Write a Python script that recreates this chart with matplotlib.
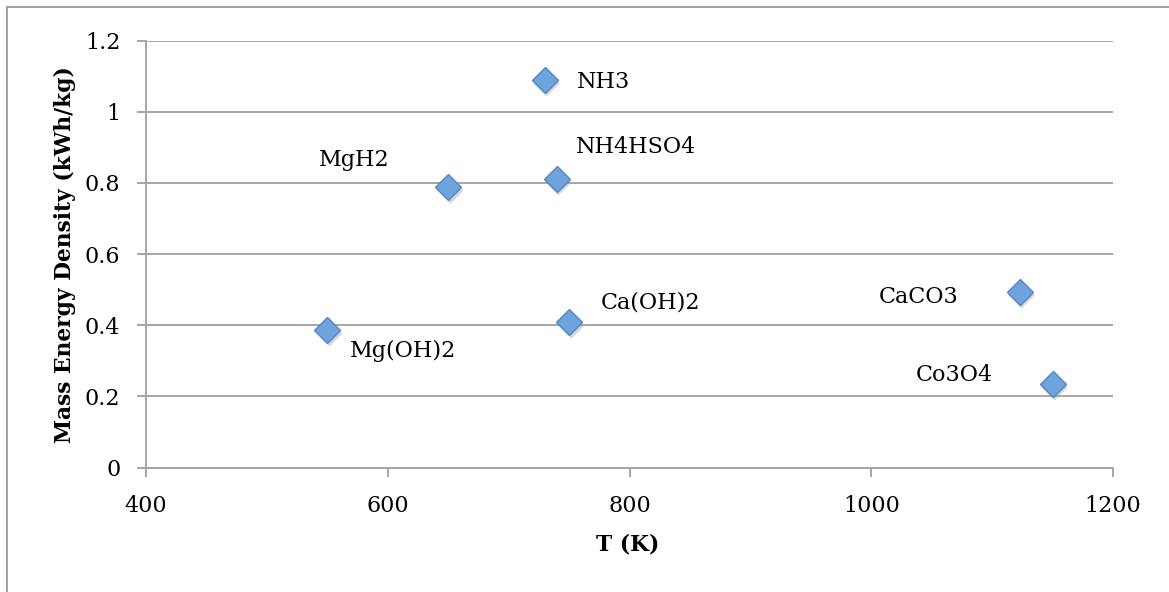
import matplotlib
matplotlib.use("Agg")
import matplotlib.pyplot as plt
from matplotlib.lines import Line2D
from matplotlib import transforms

# ---- data ----
materials = ["NH3", "MgH2", "NH4HSO4", "Mg(OH)2", "Ca(OH)2", "CaCO3", "Co3O4"]
temperature_K = [730, 650, 740, 550, 750, 1123, 1150]
energy_density = [1.09, 0.79, 0.81, 0.388, 0.408, 0.493, 0.236]
x_ticks = [400, 600, 800, 1000, 1200]
y_ticks = [0, 0.2, 0.4, 0.6, 0.8, 1.0, 1.2]
y_tick_labels = ["0", "0.2", "0.4", "0.6", "0.8", "1", "1.2"]
x_title = "T (K)"
y_title = "Mass Energy Density (kWh/kg)"

# label offsets (pixels) and alignment per point
label_style = {
    "NH3": (32, -2, "left"),
    "MgH2": (-59, 27, "right"),
    "NH4HSO4": (19, 32, "left"),
    "Mg(OH)2": (23, -21, "left"),
    "Ca(OH)2": (32, 20, "left"),
    "CaCO3": (-61, -5, "right"),
    "Co3O4": (-60, 9, "right"),
}

W, H, DPI = 1169, 592, 100
plt.rcParams["font.family"] = ["DejaVu Serif"]
FS = 16
FSB = 15.7
GRID = "#a6a6a6"

fig = plt.figure(figsize=(W / DPI, H / DPI), dpi=DPI)
fig.patch.set_facecolor("white")

left, right = 146 / W, 1113 / W
top, bottom = 1 - 40.7 / H, 1 - 467.5 / H
ax = fig.add_axes([left, bottom, right - left, top - bottom])

ax.set_xlim(400, 1200)
ax.set_ylim(0, 1.2)
ax.set_xticks(x_ticks)
ax.set_xticklabels([str(t) for t in x_ticks])
ax.set_yticks(y_ticks)
ax.set_yticklabels(y_tick_labels)

for s in ["top", "right"]:
    ax.spines[s].set_visible(False)
for s in ["left", "bottom"]:
    ax.spines[s].set_color(GRID)
    ax.spines[s].set_linewidth(1.4)

ax.yaxis.grid(True, color=GRID, linewidth=1.4)
ax.set_axisbelow(True)
ax.tick_params(axis="both", direction="out", length=6.5, width=1.4, color=GRID,
               labelsize=FS, labelcolor="black")
ax.tick_params(axis="y", pad=12)
ax.tick_params(axis="x", pad=13)

# shadow
shadow_tr = transforms.offset_copy(ax.transData, fig=fig, x=1.5, y=-3, units="dots")
ax.plot(temperature_K, energy_density, linestyle="none", marker="D", markersize=13.5,
        markerfacecolor="#9a9a9a", markeredgecolor="none", alpha=0.4,
        transform=shadow_tr, zorder=3, clip_on=False)
ax.plot(temperature_K, energy_density, linestyle="none", marker="D", markersize=13.3,
        markerfacecolor="#6fa3de", markeredgecolor="#5386c4", markeredgewidth=1.0,
        zorder=4, clip_on=False)

for name, xv, yv in zip(materials, temperature_K, energy_density):
    dx, dy, ha = label_style[name]
    ax.annotate(name, (xv, yv), xytext=(dx * 0.72, dy * 0.72), textcoords="offset points",
                ha=ha, va="center", fontsize=FS, color="black", zorder=5)

ax.set_xlabel(x_title, fontsize=FSB, fontweight="bold", va="center")
ax.xaxis.set_label_coords(0.4984, (467.5 - 544) / (467.5 - 40.7))
ax.set_ylabel(y_title, fontsize=FSB, fontweight="bold", va="center")
ax.yaxis.set_label_coords((65 - 146) / (1113 - 146), 0.5)

# outer border (top and left only, as the chart is cropped)
bx = 6.5 / W
by = 1 - 6.5 / H
fig.add_artist(Line2D([bx, 1.0], [by, by], transform=fig.transFigure, color="#a0a0a0", linewidth=1.4))
fig.add_artist(Line2D([bx, bx], [by, 0.0], transform=fig.transFigure, color="#a0a0a0", linewidth=1.4))

fig.savefig("out.png", dpi=DPI)
